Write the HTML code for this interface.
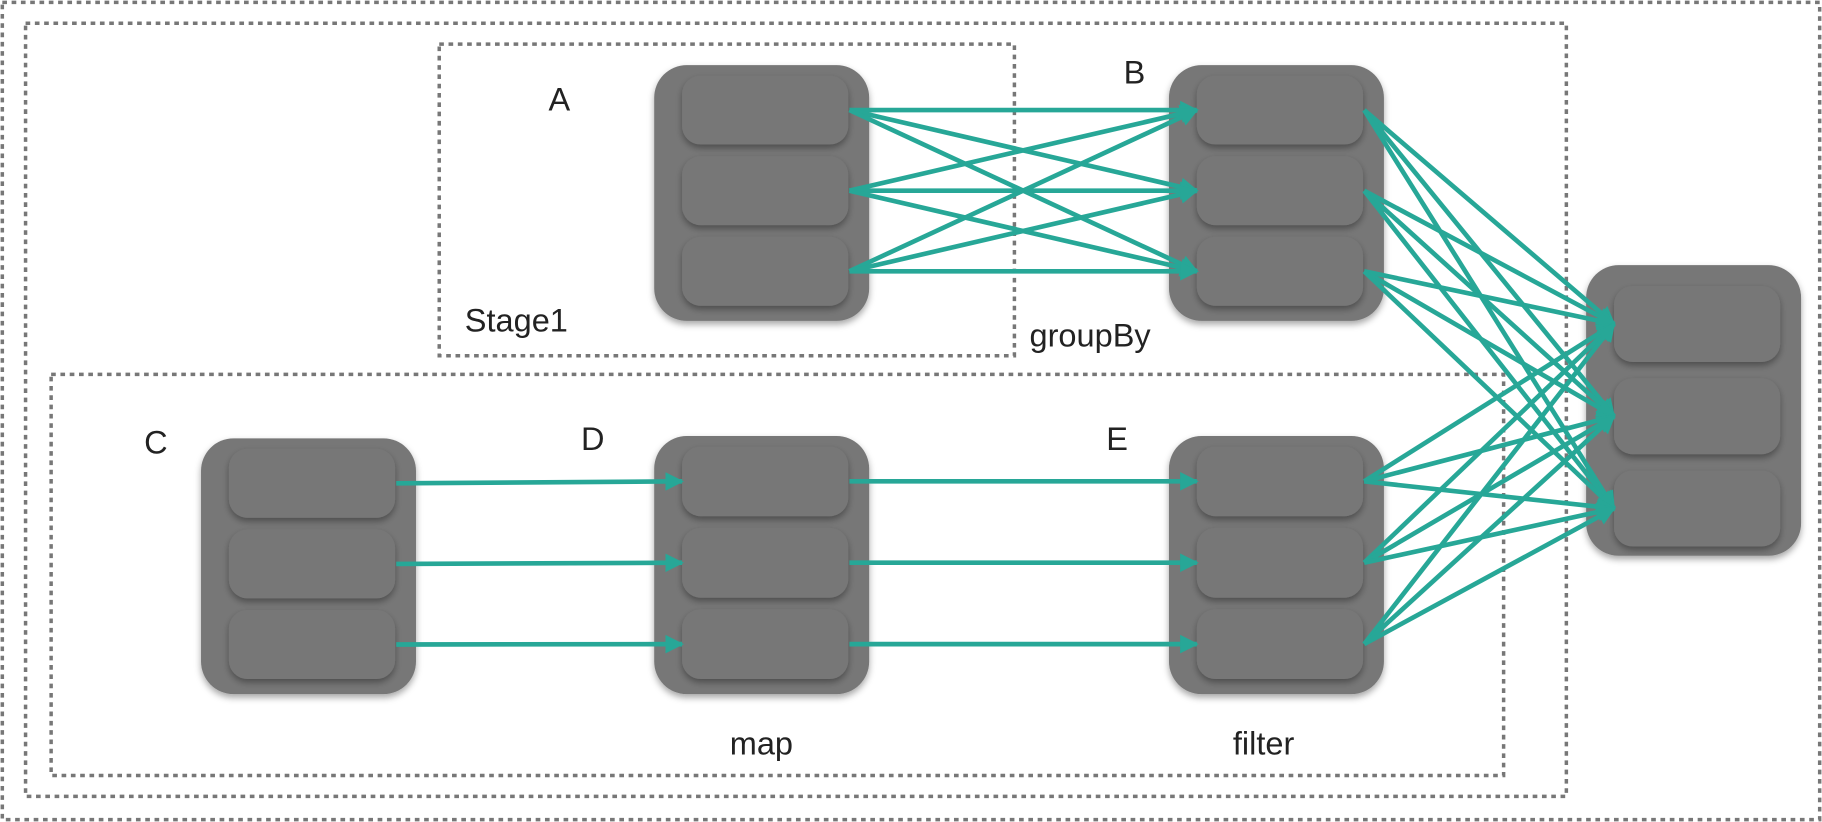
<!DOCTYPE html>
<html><head><meta charset="utf-8"><style>
html,body{margin:0;padding:0;background:#fff;}
svg{display:block;}
text{font-family:"Liberation Sans","DejaVu Sans",sans-serif;font-size:28px;fill:#222;}
</style></head><body>
<svg id="s" width="1822" height="822" viewBox="0 0 1568 707" preserveAspectRatio="none" xmlns="http://www.w3.org/2000/svg">
<defs>
<marker id="ah" viewBox="0 0 10 10" refX="9" refY="5" markerWidth="4" markerHeight="4" orient="auto" markerUnits="strokeWidth"><path d="M0,0 L10,5 L0,10 z" fill="#27a797"/></marker>
<filter id="sh" x="-20%" y="-20%" width="140%" height="140%"><feDropShadow dx="0" dy="3" stdDeviation="3" flood-color="#000" flood-opacity="0.35"/></filter>
</defs>
<g fill="none" stroke="#777" stroke-width="3" stroke-dasharray="4 4">
<rect x="2" y="2" width="1564" height="703"/>
<rect x="22" y="20" width="1326" height="665"/>
<rect x="378" y="38" width="495" height="268"/>
<rect x="44" y="322" width="1250" height="345"/>
</g>
<g id="nodes"></g>
<g id="edges"></g>
<g>
<text x="472" y="95">A</text>
<text x="967" y="72">B</text>
<text x="124" y="390">C</text>
<text x="500" y="387">D</text>
<text x="952" y="387">E</text>
<text x="400" y="285">Stage1</text>
<text x="886" y="298">groupBy</text>
<text x="628" y="649">map</text>
<text x="1061" y="649">filter</text>
</g>
</svg>
<script>
const ns="http://www.w3.org/2000/svg";
const nodeNames=["a","b","c","d","e","out"];
const nodeX=[563,1006,173,563,1006,1365];
const nodeY=[56,56,377,375,375,228];
const nodeH=[220,220,220,222,222,250];
const W=185;
const ng=document.getElementById("nodes");
const rowCenters={};
nodeNames.forEach((n,i)=>{
  const g=document.createElementNS(ns,"g");
  
  
  const r=document.createElementNS(ns,"rect");
  r.setAttribute("x",nodeX[i]);r.setAttribute("y",nodeY[i]);r.setAttribute("width",W);r.setAttribute("height",nodeH[i]);
  r.setAttribute("rx",28);r.setAttribute("fill","#777");r.setAttribute("filter","url(#sh)");
  
  
  g.appendChild(r);
  const rh=(nodeH[i]-30)/3;
  rowCenters[n]=[];
  for(let k=0;k<3;k++){
    const y=nodeY[i]+9+k*(rh+6)+ (i==5?9:0);
    const h=rh-4-(i==5?4:0);
    const p=document.createElementNS(ns,"rect");
    p.setAttribute("x",nodeX[i]+24);p.setAttribute("y",y);p.setAttribute("width",W-42);p.setAttribute("height",h);
    p.setAttribute("rx",16);p.setAttribute("fill","#777");p.setAttribute("filter","url(#sh)");
    
    
    g.appendChild(p);
    rowCenters[n].push(y+h/2);
  }
  ng.appendChild(g);
});
const eg=document.getElementById("edges");
function edge(from,to,fi,ti,name){
  const a=nodeNames.indexOf(from),b=nodeNames.indexOf(to);
  const l=document.createElementNS(ns,"line");
  l.setAttribute("x1",nodeX[a]+W-17);l.setAttribute("y1",rowCenters[from][fi]);
  l.setAttribute("x2",nodeX[b]+24);l.setAttribute("y2",rowCenters[to][ti]);
  l.setAttribute("stroke","#27a797");l.setAttribute("stroke-width","4");l.setAttribute("marker-end","url(#ah)");
  
  
  eg.appendChild(l);
}
const wide=[["a","b"],["b","out"],["e","out"]];
const narrow=[["c","d"],["d","e"]];
wide.forEach(([f,t])=>{for(let i=0;i<3;i++)for(let j=0;j<3;j++)edge(f,t,i,j,'shuffle-edge-'+f+(i+1)+'-'+t+(j+1));});
narrow.forEach(([f,t])=>{for(let i=0;i<3;i++)edge(f,t,i,i,'narrow-edge-'+f+(i+1)+'-'+t+(i+1));});
</script>
</body></html>
